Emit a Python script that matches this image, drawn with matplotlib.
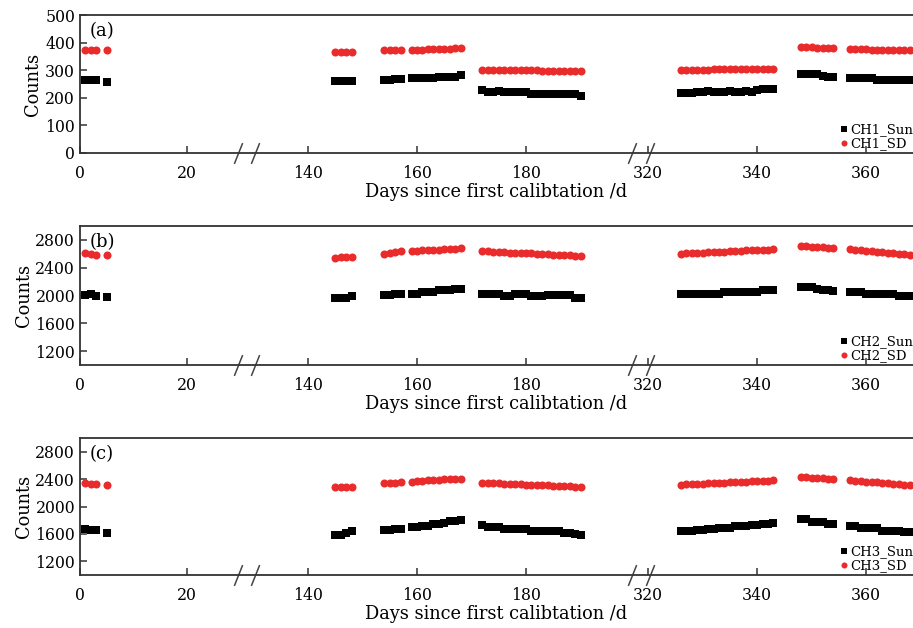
import matplotlib.pyplot as plt
import numpy as np

plt.rcParams['font.family'] = ['DejaVu Serif']

# observation days (three groups separated by axis breaks)
days = [1, 2, 3, 5,
        145, 146, 147, 148,
        154, 155, 156, 157,
        159, 160, 161, 162, 163, 164, 165, 166, 167, 168,
        172, 173, 174, 175, 176, 177, 178, 179, 180, 181, 182, 183, 184, 185, 186, 187, 188, 189, 190,
        326, 327, 328, 329, 330, 331, 332, 333, 334, 335, 336, 337, 338, 339, 340, 341, 342, 343,
        348, 349, 350, 351, 352, 353, 354,
        357, 358, 359, 360, 361, 362, 363, 364, 365, 366, 367, 368]

ch1_sun = [265, 264, 264, 258,
           261, 261, 261, 262,
           266, 266, 267, 267,
           270, 271, 271, 272, 272, 276, 276, 277, 277, 284,
           228, 222, 222, 223, 222, 221, 222, 222, 221, 215, 215, 214, 215, 214, 214, 215, 214, 214, 208,
           216, 216, 216, 222, 222, 223, 222, 222, 222, 223, 222, 222, 223, 222, 230, 231, 231, 231,
           287, 286, 286, 285, 278, 277, 277,
           272, 271, 271, 271, 270, 265, 265, 264, 265, 264, 264, 264]
ch1_sd = [374, 373, 373, 373,
          367, 367, 366, 367,
          373, 372, 373, 374,
          373, 374, 375, 376, 376, 377, 378, 378, 379, 379,
          301, 301, 300, 300, 300, 300, 300, 299, 299, 299, 299, 298, 298, 298, 298, 297, 297, 296, 297,
          301, 301, 302, 302, 302, 302, 303, 303, 303, 303, 303, 304, 304, 304, 304, 304, 305, 305,
          384, 384, 383, 382, 381, 380, 380,
          377, 377, 376, 376, 375, 375, 374, 374, 374, 373, 373, 372]

ch2_sun = [2010, 2025, 2000, 1977,
           1962, 1962, 1965, 1991,
           2010, 2010, 2025, 2025,
           2025, 2025, 2049, 2049, 2049, 2080, 2080, 2083, 2095, 2097,
           2025, 2025, 2025, 2022, 2000, 2000, 2025, 2025, 2022, 1991, 1991, 1993, 2010, 2010, 2012, 2010, 2008, 1965, 1962,
           2025, 2025, 2023, 2025, 2025, 2026, 2025, 2025, 2049, 2049, 2050, 2049, 2048, 2049, 2050, 2073, 2073, 2075,
           2122, 2120, 2118, 2100, 2073, 2073, 2070,
           2049, 2049, 2048, 2025, 2025, 2024, 2025, 2022, 2022, 2000, 2000, 1998]
ch2_sd = [2606, 2600, 2590, 2582,
          2545, 2550, 2548, 2552,
          2600, 2615, 2625, 2635,
          2640, 2645, 2650, 2655, 2660, 2660, 2665, 2670, 2675, 2680,
          2640, 2635, 2630, 2625, 2622, 2618, 2615, 2612, 2608, 2605, 2600, 2597, 2593, 2590, 2587, 2583, 2578, 2572, 2570,
          2600, 2605, 2610, 2612, 2616, 2620, 2624, 2628, 2632, 2636, 2640, 2644, 2648, 2651, 2655, 2658, 2662, 2666,
          2718, 2712, 2705, 2700, 2695, 2688, 2682,
          2664, 2657, 2650, 2645, 2640, 2633, 2625, 2618, 2610, 2603, 2595, 2588]

ch3_sun = [1665, 1663, 1655, 1615,
           1590, 1590, 1620, 1639,
           1653, 1660, 1668, 1673,
           1703, 1705, 1722, 1722, 1745, 1751, 1765, 1785, 1795, 1798,
           1727, 1703, 1703, 1700, 1673, 1673, 1670, 1673, 1670, 1639, 1639, 1637, 1639, 1636, 1636, 1615, 1613, 1592, 1590,
           1639, 1639, 1640, 1663, 1663, 1665, 1665, 1683, 1685, 1686, 1712, 1712, 1714, 1737, 1737, 1740, 1751, 1753,
           1820, 1818, 1776, 1776, 1774, 1747, 1745,
           1722, 1720, 1683, 1683, 1681, 1680, 1649, 1649, 1647, 1645, 1625, 1622]
ch3_sd = [2345, 2335, 2325, 2310,
          2280, 2285, 2282, 2288,
          2340, 2345, 2350, 2355,
          2365, 2370, 2375, 2380, 2385, 2390, 2395, 2398, 2402, 2405,
          2347, 2343, 2340, 2337, 2333, 2330, 2327, 2323, 2320, 2317, 2313, 2310, 2307, 2303, 2300, 2297, 2293, 2290, 2287,
          2320, 2324, 2328, 2331, 2335, 2339, 2342, 2346, 2350, 2353, 2357, 2360, 2364, 2368, 2371, 2375, 2378, 2382,
          2434, 2428, 2422, 2416, 2410, 2403, 2395,
          2385, 2378, 2371, 2365, 2358, 2351, 2345, 2338, 2331, 2325, 2318, 2311]

panels = [('(a)', 'CH1', ch1_sun, ch1_sd, (0, 500), [0, 100, 200, 300, 400, 500]),
          ('(b)', 'CH2', ch2_sun, ch2_sd, (1000, 3000), [1200, 1600, 2000, 2400, 2800]),
          ('(c)', 'CH3', ch3_sun, ch3_sd, (1000, 3000), [1200, 1600, 2000, 2400, 2800])]
xticks = [0, 20, 140, 160, 180, 320, 340, 360]

# broken x axis: piecewise linear day -> position mapping
day_knots = [0, 31.2, 128.8, 201.1, 318.7, 400]
pos_knots = [0, 167.0, 167.1, 561.1, 561.2, 1004.3]


def forward(d):
    return np.interp(d, day_knots, pos_knots)


def inverse(u):
    return np.interp(u, pos_knots, day_knots)


red = '#ea2b2b'
spine_col = '#333333'

fig = plt.figure(figsize=(9.13, 6.28), dpi=100)
boxes = [(0.7564, 0.2197), (0.4188, 0.2213), (0.0844, 0.2181)]

for (tag, ch, sun, sd, ylim, yticks), (bottom, height) in zip(panels, boxes):
    ax = fig.add_axes([0.0876, bottom, 0.9124, height])
    ax.set_xscale('function', functions=(forward, inverse))
    ax.plot(days, sun, 's', color='black', ms=6.0, mew=0, label=ch + '_Sun')
    ax.plot(days, sd, 'o', color=red, ms=5.8, mew=0, label=ch + '_SD')
    ax.set_xlim(0, 368.6)
    ax.set_ylim(*ylim)
    ax.set_xticks(xticks)
    ax.set_xticklabels([str(t) for t in xticks])
    ax.set_yticks(yticks)
    ax.tick_params(direction='in', length=5, width=1.1, color=spine_col, labelsize=11.3)
    ax.tick_params(axis='x', pad=8.5)
    ax.spines['right'].set_visible(False)
    for s in ['left', 'top', 'bottom']:
        ax.spines[s].set_color(spine_col)
        ax.spines[s].set_linewidth(1.3)
    ax.set_xlabel('Days since first calibtation /d', fontsize=12.8, labelpad=1)
    ax.set_ylabel('Counts', fontsize=12.8, labelpad=2)
    ax.text(0.012, 0.885, tag, transform=ax.transAxes, fontsize=13, va='center', ha='left')

    # break marks on the bottom axis
    ax.plot([29.5, 130.3, 199.4, 320.4], [0, 0, 0, 0], linestyle='none',
            marker=[(-0.4, -1), (0.4, 1)], ms=15, mew=1.1, color='#444444',
            transform=ax.get_xaxis_transform(), clip_on=False)

    ax.legend(loc='lower right', bbox_to_anchor=(1.0, 0.02), frameon=False,
              fontsize=9.5, handlelength=0.6, handletextpad=0.15, labelspacing=0.05,
              borderpad=0, borderaxespad=0, markerscale=0.75)

fig.savefig('out.png', dpi=100)
